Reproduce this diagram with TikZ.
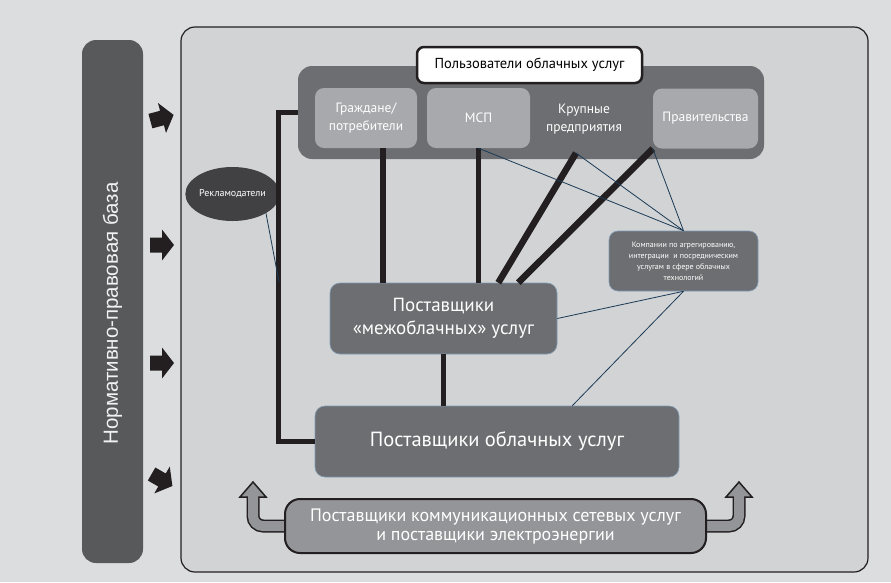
\documentclass[tikz,border=0pt]{standalone}
\usepackage{fontspec}
\usepackage{xcolor}
\setmainfont{PT Sans}
\newfontfamily\barfont{Liberation Sans}
\usetikzlibrary{shapes.geometric}
\definecolor{bgcol}{HTML}{DCDDDE}
\definecolor{panelcol}{HTML}{D1D3D4}
\definecolor{darkbox}{HTML}{6D6E71}
\definecolor{lightbox}{HTML}{A7A9AC}
\definecolor{barcol}{HTML}{58595B}
\definecolor{ellcol}{HTML}{414042}
\definecolor{midgray}{HTML}{939598}
\definecolor{linecol}{HTML}{231F20}
\definecolor{thincol}{HTML}{1B3A57}
\definecolor{edgeblue}{HTML}{7F9BB5}

\begin{document}
\begin{tikzpicture}[x=1pt,y=-1pt,
	box/.style={rounded corners=10pt, fill=darkbox, draw=edgeblue, line width=0.6pt,
		text=white, align=center, inner sep=0pt},
	userbox/.style={rounded corners=9pt, fill=lightbox, text=white, align=center,
		inner sep=0pt, minimum height=60pt, font=\fontsize{13.5}{18}\selectfont},
	heavy/.style={draw=linecol, line width=5.5pt},
	slim/.style={draw=thincol, line width=0.8pt}]
	%background
	\fill[bgcol] (0,0) rectangle (891,582);
	\useasboundingbox (0,0) rectangle (891,582);

	%panel
	\draw[fill=panelcol, draw=linecol, line width=1.2pt, rounded corners=14pt] (181,27) rectangle (868,572);

	%legal base
	\node[fill=barcol, rounded corners=14pt, rotate=90, minimum width=523pt, minimum height=61pt,
		text=white!90!gray, font=\barfont\fontsize{20.5}{24}\selectfont] (bar) at (112.5,301.5)
		{Нормативно-правовая база\hspace*{24pt}};
	\foreach \y/\r in {118/15, 245/0, 363/0, 480/-30}
		\fill[linecol, rotate around={\r:(162,\y)}] (150,\y-7.5) -- (162,\y-7.5) -- (162,\y-15.5)
			-- (174,\y) -- (162,\y+15.5) -- (162,\y+7.5) -- (150,\y+7.5) -- cycle;

	%users
	\node[box, draw=none, rounded corners=14pt, minimum width=466pt, minimum height=93pt] (users) at (531,112.5) {};
	\node[fill=white, draw=linecol, line width=2.5pt, rounded corners=7pt, minimum width=225pt,
		minimum height=36pt, inner sep=0pt, font=\fontsize{14.5}{16}\selectfont] (title) at (529.5,65)
		{Пользователи облачных услуг};
	\node[userbox, minimum width=102pt] (grazh) at (366,118) {Граждане/\\потребители};
	\node[userbox, minimum width=103pt] (msp) at (478.5,118) {МСП};
	\node[text=white, align=center, inner sep=0pt, font=\fontsize{13.5}{18}\selectfont] (krup) at (584,119)
		{Крупные\\предприятия};
	\node[userbox, minimum width=105pt] (prav) at (705.5,118.5) {Правительства};
	\coordinate (krup-foot) at (576,153);

	%advertisers
	\node[ellipse, fill=ellcol, minimum width=88pt, minimum height=54pt, inner sep=0pt, text=white,
		font=\fontsize{10}{12}\selectfont] (reklama) at (232.5,194) {Рекламодатели};
	\coordinate (tap) at (279,282);

	%providers
	\node[box, minimum width=227pt, minimum height=71pt, font=\fontsize{19}{23}\selectfont] (mezh) at (443.5,318.5)
		{Поставщики\\«межоблачных» услуг};
	\node[box, minimum width=364pt, minimum height=71pt, font=\fontsize{20.5}{24}\selectfont] (oblak) at (497,441.5)
		{Поставщики облачных услуг};
	\node[box, rounded corners=9pt, minimum width=149pt, minimum height=60pt, font=\fontsize{8}{11}\selectfont]
		(agreg) at (683.5,261)
		{Компании по агрегированию,\\интеграции\ \ и посредническим\\услугам в сфере облачных\\технологий};

	%network and power
	\draw[linecol, line width=13pt, rounded corners=10pt] ([xshift=6pt]285,526) -- (253,526) -- (253,496);
	\draw[linecol, line width=13pt, rounded corners=10pt] ([xshift=-6pt]706,526) -- (739,526) -- (739,496);
	\draw[fill=midgray, draw=linecol, line width=1.5pt] (240,497) -- (253,482) -- (266,497) -- cycle;
	\draw[fill=midgray, draw=linecol, line width=1.5pt] (726,497) -- (739,482) -- (752,497) -- cycle;
	\draw[midgray, line width=10pt, rounded corners=10pt] ([xshift=6pt]285,526) -- (253,526) -- (253,495.5);
	\draw[midgray, line width=10pt, rounded corners=10pt] ([xshift=-6pt]706,526) -- (739,526) -- (739,495.5);
	\node[fill=midgray, draw=linecol, line width=2pt, rounded corners=15pt, minimum width=421pt,
		minimum height=54pt, inner sep=0pt, text=white, align=center, font=\fontsize{18}{19}\selectfont]
		(kommun) at (495.5,526)
		{Поставщики коммуникационных сетевых услуг\\и поставщики электроэнергии};

	%links
	\draw[heavy] (users.west) -- ++(-19,0) |- (oblak.west);
	\draw[slim] (reklama.south east) -- (tap);
	\coordinate (grazh-foot) at ([xshift=17pt]grazh.south);
	\draw[heavy] (grazh-foot) -- (grazh-foot |- mezh.north);
	\draw[heavy] (msp.south) -- (msp.south |- mezh.north);
	\draw[heavy, line width=6.5pt] (krup-foot) -- ([xshift=-59pt]mezh.north east);
	\draw[heavy, line width=6.5pt] (prav.south west) -- ([xshift=-39pt]mezh.north east);
	\draw[heavy] (mezh.south) -- (oblak.north -| mezh.south);
	\foreach \src in {msp.south, krup-foot, prav.south west}
		\draw[slim] (\src) -- (agreg.north);
	\draw[slim] (agreg.south) -- (mezh.east);
	\draw[slim] (agreg.south) -- ([xshift=-107pt]oblak.north east);
\end{tikzpicture}
\end{document}
